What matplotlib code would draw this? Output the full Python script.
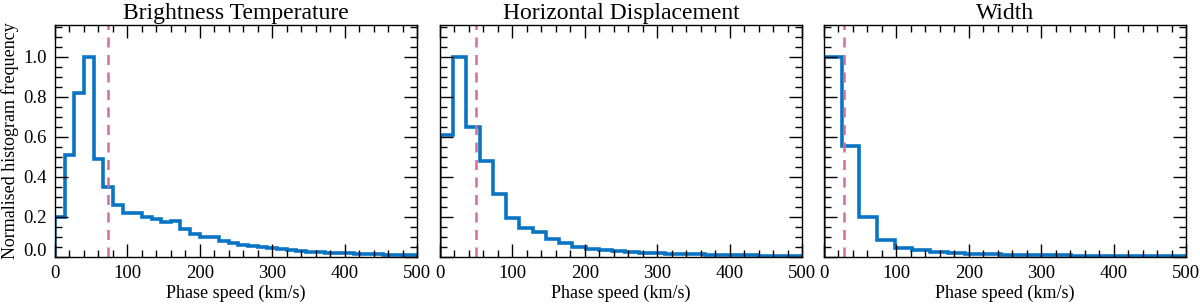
import numpy as np
import matplotlib
matplotlib.use("Agg")
import matplotlib.pyplot as plt
from matplotlib.ticker import MultipleLocator, FixedLocator, FormatStrFormatter
from matplotlib.transforms import ScaledTranslation

plt.rcParams['font.family'] = ['Liberation Serif', 'DejaVu Serif']

titles = ["Brightness Temperature", "Horizontal Displacement", "Width"]
xlabel = "Phase speed (km/s)"
ylabel = "Normalised histogram frequency"
yticks = [0.0, 0.2, 0.4, 0.6, 0.8, 1.0]

# bin widths (km/s) for each panel
bin_widths = [13.33, 18.3, 24.4]

bt_values = [0.20, 0.51, 0.82, 1.00, 0.49, 0.35, 0.26, 0.22, 0.22, 0.20,
             0.19, 0.175, 0.18, 0.14, 0.115, 0.10, 0.10, 0.082, 0.070, 0.062,
             0.055, 0.049, 0.043, 0.038, 0.034, 0.030, 0.027, 0.024, 0.022, 0.020,
             0.018, 0.016, 0.015, 0.013, 0.012, 0.011, 0.010, 0.009]
hd_values = [0.607, 1.00, 0.648, 0.479, 0.312, 0.197, 0.147, 0.124, 0.091, 0.069,
             0.050, 0.040, 0.033, 0.028, 0.025, 0.022, 0.019, 0.017, 0.015, 0.013,
             0.011, 0.010, 0.009, 0.008, 0.007, 0.006, 0.005, 0.005]
w_values = [1.00, 0.552, 0.198, 0.086, 0.045, 0.033, 0.025, 0.020, 0.017, 0.014,
            0.012, 0.010, 0.009, 0.008, 0.007, 0.006, 0.005, 0.005, 0.004, 0.004, 0.003]
series = [bt_values, hd_values, w_values]

# dashed reference speeds (km/s)
ref_speeds = [73.5, 50.0, 27.5]

blue = '#0a74c4'
pink = '#cf6f98'

fig = plt.figure(figsize=(12, 3.06), dpi=100)
lefts = [55/1200, 440/1200, 824/1200]
width = 362/1200
bottom = 1 - 257/306
height = (257 - 25) / 306

for i in range(3):
    ax = fig.add_axes([lefts[i], bottom, width, height])
    vals = np.array(series[i])
    edges = np.arange(len(vals) + 1) * bin_widths[i]
    ax.stairs(vals, edges, color=blue, linewidth=2.6, baseline=0)
    ax.axvline(ref_speeds[i], color=pink, linestyle=(0, (4, 3)), linewidth=1.8, zorder=1)
    ax.set_xlim(0, 500)
    ax.set_ylim(0, 1.158)
    ax.xaxis.set_major_locator(MultipleLocator(100))
    ax.xaxis.set_minor_locator(MultipleLocator(20))
    ax.yaxis.set_major_locator(FixedLocator(yticks))
    ax.yaxis.set_minor_locator(MultipleLocator(0.05))
    ax.tick_params(which='both', direction='in', top=True, right=True, width=1.0,
                   labelsize=13.5, colors='black', pad=6)
    ax.tick_params(which='major', length=9.5)
    ax.tick_params(which='minor', length=4.8)
    for s in ax.spines.values():
        s.set_linewidth(1.0)
    ax.set_title(titles[i], fontsize=17, pad=4)
    ax.set_xlabel(xlabel, fontsize=13, labelpad=2)
    if i == 0:
        ax.yaxis.set_major_formatter(FormatStrFormatter('%.1f'))
        ax.set_ylabel(ylabel, fontsize=13)
        ax.yaxis.set_label_coords(-0.100, 0.5)
        fig.canvas.draw()
        for t in ax.yaxis.get_major_ticks():
            if abs(t.get_loc()) < 1e-9:
                lab = t.label1
                lab.set_transform(lab.get_transform() + ScaledTranslation(0, 5.5/72, fig.dpi_scale_trans))
    else:
        ax.set_yticklabels([])

fig.savefig('out.png', dpi=100)
